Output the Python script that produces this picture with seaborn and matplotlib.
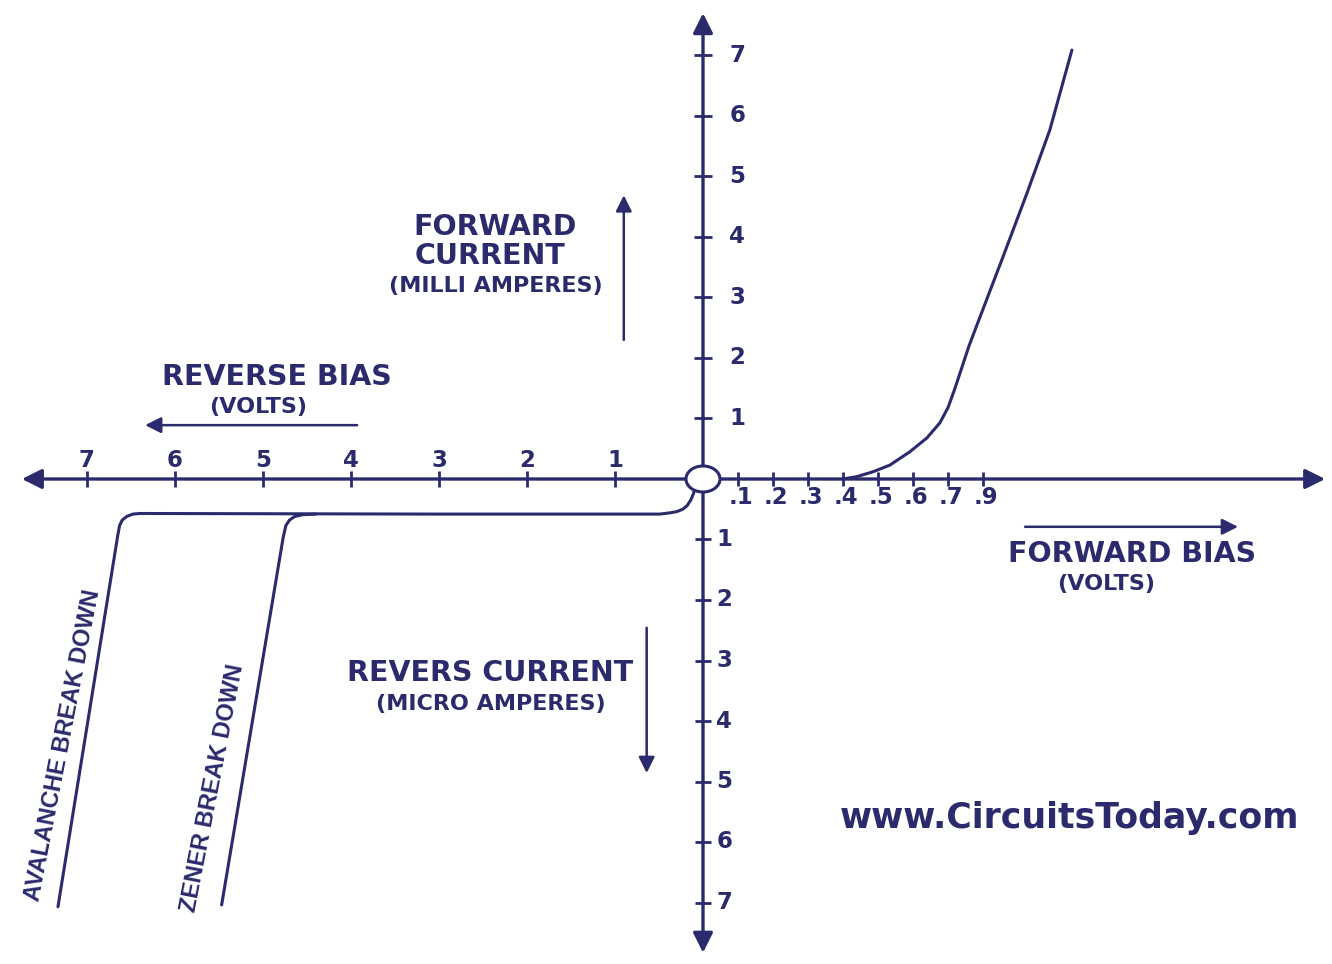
import matplotlib
matplotlib.use('Agg')
import matplotlib.pyplot as plt
from matplotlib.patches import Ellipse
import numpy as np
import pandas as pd
import seaborn as sns

NAVY = '#2a2a6c'

# reverse bias axis (volts), forward bias axis (tenths of volts)
rev_ticks = [1, 2, 3, 4, 5, 6, 7]
fwd_labels = ['.1', '.2', '.3', '.4', '.5', '.6', '.7', '.9']
up_ticks = [1, 2, 3, 4, 5, 6, 7]      # milli amperes
down_ticks = [1, 2, 3, 4, 5, 6, 7]    # micro amperes

# forward characteristic (volts on the forward scale, mA)
fwd_volts = [0.40, 0.44, 0.486, 0.534, 0.591, 0.640, 0.677, 0.700, 0.720, 0.740,
             0.760, 0.785, 0.857, 0.926, 0.991, 1.054]
fwd_ma = [0.00, 0.04, 0.12, 0.23, 0.45, 0.68, 0.93, 1.18, 1.50, 1.85,
          2.20, 2.58, 3.67, 4.73, 5.77, 7.09]

# reverse leakage + avalanche breakdown (volts, micro amperes, both negative)
aval_volts = [-0.09, -0.11, -0.14, -0.18, -0.23, -0.30, -0.38, -0.49, -3.0,
              -6.40, -6.48, -6.55, -6.60, -6.63, -6.65, -7.33]
aval_ua = [-0.15, -0.25, -0.35, -0.44, -0.50, -0.54, -0.56, -0.58, -0.58,
           -0.57, -0.58, -0.62, -0.68, -0.77, -0.93, -7.07]

# zener breakdown branch
zen_volts = [-4.40, -4.55, -4.64, -4.70, -4.74, -4.77, -5.47]
zen_ua = [-0.58, -0.59, -0.62, -0.68, -0.77, -0.96, -7.04]

FWD_STRETCH = 3.5 / 0.88   # forward volts are drawn on a stretched scale

sns.set_theme(style='white')
plt.rcParams['font.family'] = ['DejaVu Sans']

fig = plt.figure(figsize=(13.32, 9.64), dpi=100)
ax = fig.add_axes([0, 0, 1, 1])
ax.set_xlim(-703 / 88, (1332 - 703) / 88)
ax.set_ylim((479 - 964) / 60.5, 479 / 60.5)
ax.axis('off')


def arrow(x0, y0, x1, y1, lw=2.0, scale=26):
    ax.annotate('', xy=(x1, y1), xytext=(x0, y0),
                arrowprops=dict(arrowstyle='-|>', color=NAVY, lw=lw,
                                mutation_scale=scale, shrinkA=0, shrinkB=0))


# main axes with arrow heads on both ends
arrow(0, 0, -7.74, 0, lw=2.4, scale=30)
arrow(0, 0, 7.07, 0, lw=2.4, scale=30)
arrow(0, 0, 0, 7.70, lw=2.4, scale=30)
arrow(0, 0, 0, -7.83, lw=2.4, scale=30)

# tick marks
rev_x = -np.array(rev_ticks, dtype=float)
fwd_x = (np.arange(len(fwd_labels)) + 1) * 0.1 * FWD_STRETCH
ax.plot(rev_x, np.zeros_like(rev_x), ls='none', marker='|', ms=11, mew=2, color=NAVY)
ax.plot(fwd_x, np.zeros_like(fwd_x), ls='none', marker='|', ms=10, mew=2, color=NAVY)
ax.plot(np.zeros(len(up_ticks)), up_ticks, ls='none', marker='_', ms=13, mew=2, color=NAVY)
ax.plot(np.zeros(len(down_ticks)), -np.array(down_ticks), ls='none', marker='_', ms=11, mew=2, color=NAVY)

num_font = dict(color=NAVY, fontsize=16.5, fontweight='bold')
for x, lab in zip(rev_x, rev_ticks):
    ax.text(x, 0.31, str(lab), ha='center', va='center', **num_font)
for x, lab in zip(fwd_x, fwd_labels):
    ax.text(x + 0.03, -0.30, lab, ha='center', va='center', **num_font)
for y in up_ticks:
    ax.text(0.30, y, str(y), ha='left', va='center', **num_font)
for y in down_ticks:
    ax.text(0.15, -y, str(y), ha='left', va='center', **num_font)

# characteristic curves
fwd_df = pd.DataFrame({'x': np.array(fwd_volts) * FWD_STRETCH, 'y': fwd_ma})
aval_df = pd.DataFrame({'x': aval_volts, 'y': aval_ua})
zen_df = pd.DataFrame({'x': zen_volts, 'y': zen_ua})
for df in (fwd_df, aval_df, zen_df):
    sns.lineplot(data=df, x='x', y='y', sort=False, estimator=None, ax=ax,
                 color=NAVY, lw=2.2)

# origin ring
ax.add_patch(Ellipse((0, 0), 34 / 88, 26 / 60.5, facecolor='white',
                     edgecolor=NAVY, lw=2.2, zorder=5))

# direction arrows
arrow(-0.90, 2.30, -0.90, 4.69, lw=1.8, scale=24)
arrow(-3.93, 0.89, -6.34, 0.89, lw=1.8, scale=24)
arrow(3.66, -0.79, 6.08, -0.79, lw=1.8, scale=24)
arrow(-0.64, -2.46, -0.64, -4.86, lw=1.8, scale=24)

big = dict(color=NAVY, fontsize=20.5, fontweight='bold', ha='center', va='center')
small = dict(color=NAVY, fontsize=16, fontweight='bold', ha='center', va='center')
ax.text(-2.36, 4.17, 'FORWARD', **big)
ax.text(-2.42, 3.69, 'CURRENT', **big)
ax.text(-2.35, 3.19, '(MILLI AMPERES)', **small)
ax.text(-4.84, 1.69, 'REVERSE BIAS', **big)
ax.text(-5.06, 1.19, '(VOLTS)', **small)
ax.text(4.875, -1.24, 'FORWARD BIAS', **big)
ax.text(4.58, -1.74, '(VOLTS)', **small)
ax.text(-2.42, -3.21, 'REVERS CURRENT', **big)
ax.text(-2.41, -3.72, '(MICRO AMPERES)', **small)
ax.text(4.17, -5.60, 'www.CircuitsToday.com', color=NAVY, fontsize=25,
        fontweight='bold', ha='center', va='center')

narrow = dict(color=NAVY, fontsize=17, fontweight='bold', ha='center', va='center',
              rotation=79, rotation_mode='anchor',
              family=['Liberation Sans', 'DejaVu Sans'])
ax.text(-7.27, -4.40, 'AVALANCHE BREAK DOWN', **narrow)
ax.text(-5.57, -5.11, 'ZENER BREAK DOWN', **narrow)

fig.savefig('out.png', dpi=100, facecolor='white')
